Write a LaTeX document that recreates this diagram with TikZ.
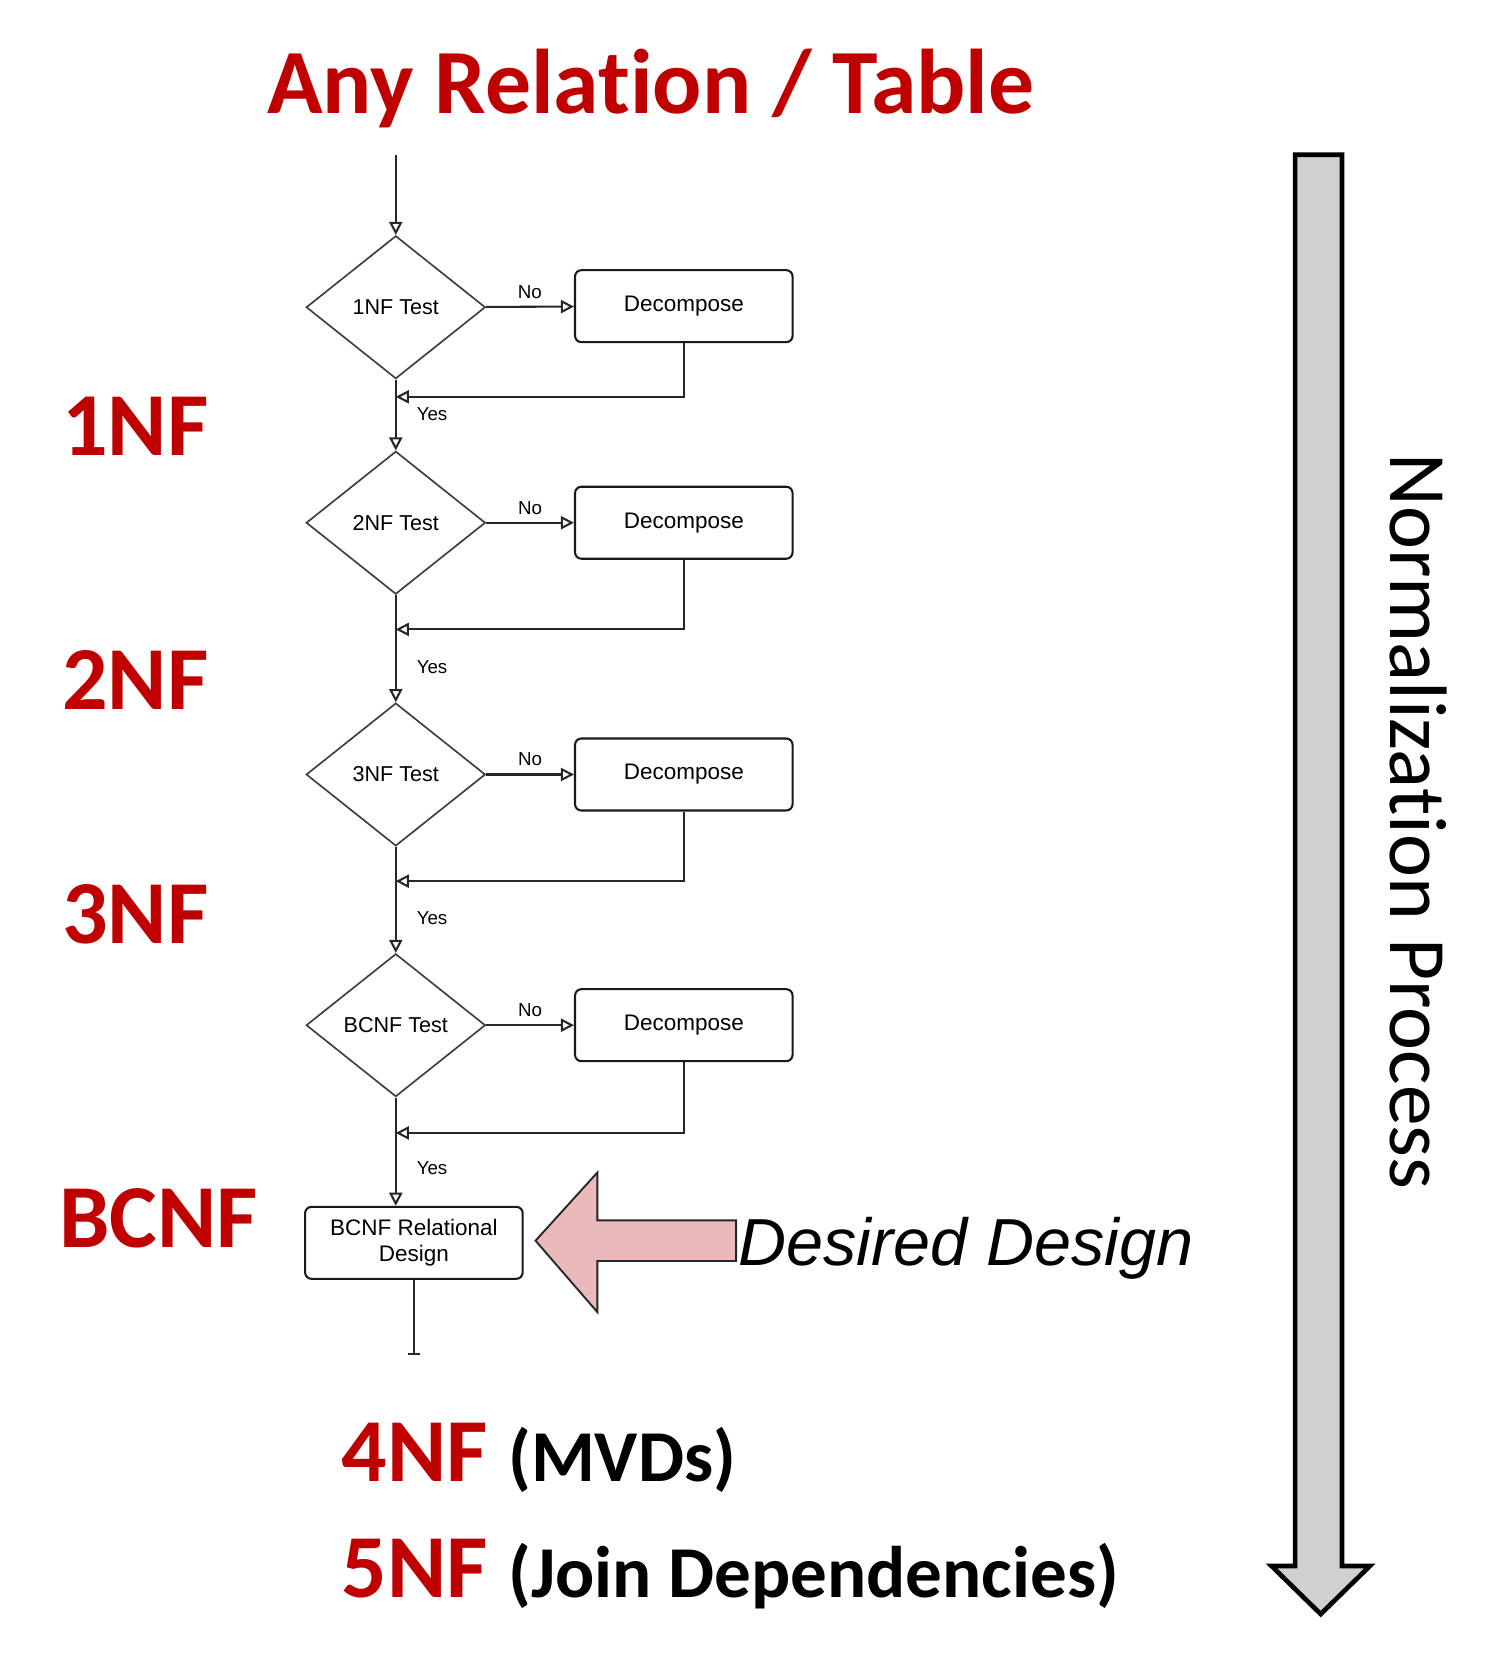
\documentclass[tikz,border=0pt]{standalone}
\usepackage{fontspec}
\setmainfont{Carlito}[Ligatures=NoCommon]
\newfontfamily\chartfont{Liberation Sans}
\usetikzlibrary{shapes.geometric,arrows.meta}
\definecolor{nfred}{RGB}{192,0,0}
\definecolor{pinkfill}{RGB}{234,186,186}
\definecolor{bargray}{RGB}{208,208,208}
\newcommand{\backdraw}[2]{\draw[flow] (#1.south) |- (#2)}

\begin{document}
\begin{tikzpicture}[x=0.02cm, y=-0.02cm,
    test/.style={diamond, draw=black!75, line width=0.9pt, minimum width=3.36cm, minimum height=2.68cm, inner sep=0pt, font=\chartfont\fontsize{11.5}{13}\selectfont},
    stepbox/.style={draw=black!90, line width=1.1pt, rounded corners=0.12cm, minimum width=4.08cm, minimum height=1.35cm, align=center, font=\chartfont\fontsize{12}{14}\selectfont},
    flow/.style={draw=black!85, line width=1.1pt, -{Triangle[open, length=7pt, width=7pt]}},
    tag/.style={font=\chartfont\fontsize{10}{12}\selectfont, inner sep=1pt},
    nf/.style={anchor=base west, inner sep=0pt, text=nfred, font=\fontsize{48}{58}\selectfont\bfseries}]
    \useasboundingbox (0,0) rectangle (1410,1572);

    \node[nf, font=\fontsize{49}{58}\selectfont\bfseries] (title) at (250,106) {Any Relation / Table};

    \coordinate (start) at (371,145);
    \node[test] (t1) at (371,288) {1NF Test};
    \node[test] (t2) at (371,490) {2NF Test};
    \node[test] (t3) at (371,726) {3NF Test};
    \node[test] (t4) at (371,961) {BCNF Test};

    \node[stepbox] (d1) at (641,287) {Decompose};
    \node[stepbox] (d2) at (641,490) {Decompose};
    \node[stepbox] (d3) at (641,726) {Decompose};
    \node[stepbox] (d4) at (641,961) {Decompose};

    \coordinate (j1) at (371,372);
    \coordinate (j2) at (371,590);
    \coordinate (j3) at (371,826);
    \coordinate (j4) at (371,1062);

    \node[stepbox] (final) at (388,1165) {BCNF Relational\\Design};
    \coordinate (out) at (388,1270);

    \draw[flow] (start) -- (t1);
    \draw[flow] (t1) -- node[tag, above=3pt] (no1) {No} (d1);
    \draw[flow] (t2) -- node[tag, above=3pt] (no2) {No} (d2);
    \draw[flow] (t3) -- node[tag, above=3pt] (no3) {No} (d3);
    \draw[flow] (t4) -- node[tag, above=3pt] (no4) {No} (d4);

    \backdraw{d1}{j1};
    \backdraw{d2}{j2};
    \backdraw{d3}{j3};
    \backdraw{d4}{j4};

    \draw[flow] (t1) -- (t2);
    \draw[flow] (t2) -- (t3);
    \draw[flow] (t3) -- (t4);
    \draw[flow] (t4.south) -- (t4.south |- final.north);
    \draw[draw=black!85, line width=1.1pt, -{Bar[width=6pt]}] (final) -- (out);

    \node[tag] (yes1) at (405,388) {Yes};
    \node[tag] (yes2) at (405,625) {Yes};
    \node[tag] (yes3) at (405,861) {Yes};
    \node[tag] (yes4) at (405,1095) {Yes};

    \draw[fill=pinkfill, draw=black!85, line width=1pt, line join=miter] (502,1163) -- (560,1099) -- (560,1144) -- (690,1144) -- (690,1182) -- (560,1182) -- (560,1230) -- cycle;
    \node[anchor=west, inner sep=0pt, font=\chartfont\itshape\fontsize{35.5}{42}\selectfont] (want) at (692,1170) {Desired Design};

    \node[nf] (nf1) at (58,427) {1NF};
    \node[nf] (nf2) at (58,665) {2NF};
    \node[nf] (nf3) at (58,884) {3NF};
    \node[nf] (nf4) at (55,1169) {BCNF};
    \node[nf] (nf5) at (320,1389) {4NF \textcolor{black}{\fontsize{39}{46}\selectfont(MVDs)}};
    \node[nf] (nf6) at (320,1497) {5NF \textcolor{black}{\fontsize{39}{46}\selectfont(Join Dependencies)}};

    \draw[fill=bargray, draw=black, line width=2.5pt, line join=miter] (1214,145) -- (1258,145) -- (1258,1468) -- (1284,1468) -- (1238,1513) -- (1192,1468) -- (1214,1468) -- cycle;
    \node[rotate=-90, font=\fontsize{43.5}{52}\selectfont] (proc) at (1330,770) {Normalization Process};
\end{tikzpicture}
\end{document}
